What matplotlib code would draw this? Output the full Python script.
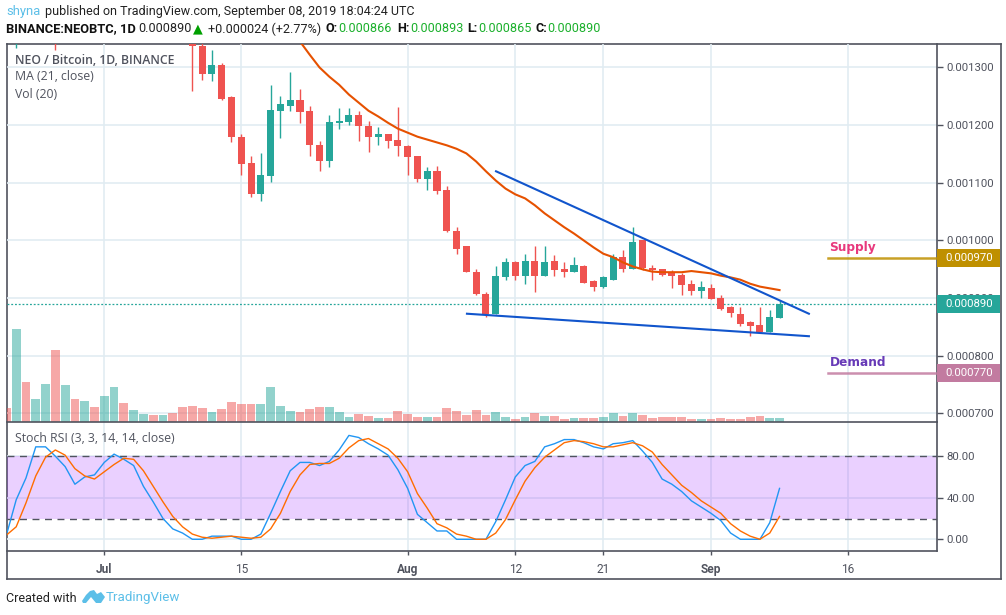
import matplotlib
matplotlib.use('Agg')
import numpy as np
import matplotlib.pyplot as plt
from matplotlib.patches import Polygon, Rectangle
from matplotlib.transforms import blended_transform_factory

# prices in 1e-6 BTC, days counted from Jul 1
candle_days = [-9, -5] + list(range(9, 70))
opens = [1390, 1420, 1350, 1338, 1288, 1305, 1248, 1180, 1135, 1081, 1111, 1225, 1234, 1243, 1224, 1166, 1137, 1204,
         1206, 1218, 1199, 1179, 1185, 1175, 1163, 1146, 1106, 1121, 1087, 1017, 990, 946, 908, 873, 936, 962, 938,
         964, 939, 964, 950, 945, 955, 929, 920, 932, 971, 950, 1000, 953, 950, 945, 941, 924, 912, 917, 901, 884,
         873, 858, 853, 842, 865]
highs = [1470, 1440, 1364, 1354, 1331, 1308, 1251, 1185, 1147, 1151, 1270, 1250, 1293, 1263, 1234, 1173, 1218, 1229,
         1230, 1224, 1208, 1196, 1185, 1232, 1166, 1146, 1128, 1130, 1094, 1024, 991, 951, 910, 955, 969, 964, 977,
         991, 990, 974, 962, 972, 958, 931, 939, 977, 983, 1023, 1000, 957, 951, 948, 943, 931, 929, 925, 905, 886,
         884, 860, 884, 879, 896]
lows = [1333, 1330, 1260, 1279, 1277, 1244, 1170, 1113, 1075, 1068, 1102, 1177, 1225, 1204, 1147, 1120, 1127, 1194,
        1201, 1172, 1154, 1166, 1161, 1146, 1114, 1102, 1088, 1081, 1014, 976, 945, 905, 867, 873, 932, 932, 924,
        910, 938, 939, 936, 945, 927, 912, 917, 932, 945, 950, 948, 932, 938, 917, 905, 906, 901, 899, 879, 867,
        851, 834, 839, 842, 865]
closes = [1450, 1375, 1337, 1288, 1305, 1246, 1180, 1132, 1081, 1114, 1227, 1236, 1243, 1222, 1165, 1137, 1206, 1208,
          1218, 1198, 1179, 1185, 1173, 1163, 1144, 1106, 1121, 1085, 1016, 986, 945, 908, 873, 938, 962, 938, 964,
          939, 962, 948, 945, 957, 927, 920, 936, 971, 950, 998, 953, 948, 941, 939, 922, 912, 919, 899, 882, 875,
          856, 851, 842, 867, 890]

ma_days = list(range(20, 70))
ma_values = [1345, 1322, 1300, 1284, 1270, 1253, 1239, 1225, 1215, 1204, 1194, 1187, 1180, 1175, 1170, 1165, 1159,
             1151, 1137, 1120, 1104, 1090, 1080, 1073, 1061, 1047, 1035, 1023, 1012, 1000, 988, 977, 971, 962, 955,
             950, 946, 945, 945, 945, 947, 945, 943, 939, 936, 932, 925, 920, 917, 914]

# relative volume, vol_down holds the days with a red bar
vol_days = list(range(-10, 70))
volumes = [14, 93, 40, 23, 38, 72, 37, 23, 21, 15, 26, 35, 19, 12, 8, 7, 7, 9, 15, 16, 14, 10, 13, 20, 18, 18, 18, 35,
           16, 11, 10, 13, 15, 15, 10, 5, 8, 6, 4, 4, 11, 8, 5, 5, 5, 14, 11, 7, 12, 7, 10, 5, 3, 5, 9, 6, 6, 3, 4, 4,
           4, 5, 9, 6, 9, 7, 4, 5, 5, 5, 3, 3, 3, 4, 3, 3, 5, 6, 4, 4]
vol_down = [-10, -8, -5, -3, -1, 2, 5, 7, 8, 9, 10, 12, 13, 14, 15, 20, 21, 22, 26, 27, 29, 30, 31, 32, 34, 35, 36, 37,
            38, 39, 42, 44, 46, 47, 49, 50, 53, 55, 56, 57, 58, 59, 60, 62, 63, 64, 65, 66, 67]

stoch_days = list(range(-10, 70))
stoch_k = [4, 38, 59, 89, 89, 80, 70, 53, 60, 62, 74, 82, 77, 71, 51, 36, 20, 10, 6, 0, 0, 3, 3, 3, 0, 0, 5, 25, 46, 66,
           74, 74, 71, 75, 86, 100, 98, 92, 87, 81, 67, 49, 24, 16, 8, 8, 0, 0, 0, 0, 17, 38, 60, 71, 75, 89, 92, 96,
           96, 93, 89, 87, 92, 93, 95, 85, 74, 58, 53, 46, 37, 31, 25, 18, 6, 0, 0, 0, 16, 49]
stoch_d = [4, 12, 35, 61, 79, 86, 81, 68, 61, 58, 65, 72, 78, 77, 66, 51, 36, 22, 12, 5, 2, 1, 2, 3, 2, 1, 2, 10, 25, 46,
           62, 72, 73, 73, 78, 88, 95, 97, 92, 87, 78, 65, 44, 30, 15, 11, 5, 3, 0, 0, 6, 19, 38, 56, 69, 79, 86, 93,
           95, 94, 92, 89, 89, 91, 93, 90, 84, 72, 62, 52, 45, 37, 31, 25, 15, 8, 3, 0, 6, 22]

# trend lines as (day, price) ends
upper_days = [40.03, 72]
upper_prices = [1120, 873]
lower_days = [37.06, 72]
lower_prices = [873, 834]

time_ticks = [0, 14, 31, 42, 51, 62, 76]
time_labels = ['Jul', '15', 'Aug', '12', '21', 'Sep', '16']
bold_labels = ['Jul', 'Aug', 'Sep']
price_ticks = [700, 800, 900, 1000, 1100, 1200, 1300]
stoch_ticks = [0, 40, 80]
last_price = 890
supply_price = 970
demand_price = 770

RED = '#ef5350'
TEAL = '#26a69a'
GREEN = '#1bb02c'
GRID = '#e1ecf2'
DARK = '#50535e'
BLUE = '#5cbfe8'
W, H = 1006, 615


def box(left, top, right, bottom):
    return [left / W, 1 - bottom / H, (right - left) / W, (bottom - top) / H]


def ftext(x, y, s, **kw):
    kw.setdefault('va', 'center')
    kw.setdefault('family', 'Roboto')
    return fig.text(x / W, 1 - y / H, s, **kw)


fig = plt.figure(figsize=(W / 100, H / 100), dpi=100)

# outer frame
frame = fig.add_axes(box(6.5, 43.5, 1000.5, 578.5))
frame.set_xticks([])
frame.set_yticks([])
for s in frame.spines.values():
    s.set_color(DARK)
    s.set_linewidth(1.2)

xlim = (-9.99, 85.09)

# main pane
vol_ax = fig.add_axes(box(6.5, 43.5, 937, 421.5))
vol_ax.set_xlim(*xlim)
vol_ax.set_ylim(0, 378)
vol_ax.axis('off')
ax = fig.add_axes(box(6.5, 43.5, 937, 421.5))
ax.set_zorder(vol_ax.get_zorder() + 1)
ax.patch.set_alpha(0)
ax.set_xlim(*xlim)
ax.set_ylim(686.1, 1341.6)

for t in time_ticks:
    vol_ax.axvline(t, color=GRID, lw=1.2, zorder=0)
for p in price_ticks:
    vol_ax.axhline((p - 686.1) * 378 / (1341.6 - 686.1), color=GRID, lw=1.2, zorder=0)

vol_colors = [RED if d in vol_down else TEAL for d in vol_days]
vol_ax.bar(vol_days, volumes, width=0.9, color=vol_colors, alpha=0.5, linewidth=0, zorder=1)

opens_a, closes_a = np.array(opens), np.array(closes)
colors = [TEAL if c >= o else RED for o, c in zip(opens, closes)]
ax.vlines(candle_days, lows, highs, colors=colors, lw=1.0, zorder=3)
ax.bar(candle_days, np.abs(closes_a - opens_a), bottom=np.minimum(opens_a, closes_a), width=0.72,
       color=colors, linewidth=0, zorder=3)

ax.plot(ma_days, ma_values, color='#e65100', lw=1.5, zorder=4)
ax.plot(upper_days, upper_prices, color='#1155cc', lw=1.5, zorder=5)
ax.plot(lower_days, lower_prices, color='#1155cc', lw=1.5, zorder=5)
ax.axhline(last_price, color=TEAL, lw=0.9, ls=(0, (1.5, 1.5)), zorder=2)

ax.plot([74, xlim[1]], [supply_price, supply_price], color='#bf9000', lw=1.8, zorder=4, alpha=0.85)
ax.plot([74, xlim[1]], [demand_price, demand_price], color='#c27ba0', lw=1.8, zorder=4, alpha=0.85)
ax.text(74.1, 988, 'Supply', color='#e8397d', fontsize=8.7, fontweight='bold', family='DejaVu Sans', va='center')
ax.text(74.1, 788, 'Demand', color='#673ab7', fontsize=8.7, fontweight='bold', family='DejaVu Sans', va='center')

ax.yaxis.tick_right()
ax.set_yticks(price_ticks)
ax.set_yticklabels(['%.6f' % (p * 1e-6) for p in price_ticks], fontsize=8.2, color=DARK, family='Roboto')
ax.tick_params(axis='y', length=4, width=1, color=DARK, pad=3)
ax.set_xticks([])
for name, s in ax.spines.items():
    s.set_visible(name in ('bottom', 'right'))
    s.set_color(DARK)
    s.set_linewidth(1.2)

# price tags on the axis
trans = blended_transform_factory(ax.transAxes, ax.transData)
for price, col in [(supply_price, '#bf9000'), (last_price, TEAL), (demand_price, '#c27ba0')]:
    ax.add_patch(Rectangle((1.0, price - 15.6), 63 / 930.5, 31.2, transform=trans, color=col, clip_on=False,
                           linewidth=0, zorder=6))
    ax.text(1 + 8 / 930.5, price, '%.6f' % (price * 1e-6), transform=trans, color='white', fontsize=8.2,
            family='Roboto', va='center', ha='left', clip_on=False, zorder=7)

ftext(15, 60, 'NEO / Bitcoin, 1D, BINANCE', fontsize=8.8, color=DARK, fontweight='semibold', family='Open Sans')
ftext(15, 77, 'MA (21, close)', fontsize=8.8, color=DARK, family='Open Sans')
ftext(15, 94, 'Vol (20)', fontsize=8.8, color=DARK, family='Open Sans')

# stoch rsi pane
st = fig.add_axes(box(6.5, 421.5, 937, 550.5))
st.set_xlim(*xlim)
st.set_ylim(-10.8, 113.4)
st.patch.set_alpha(0)
for t in time_ticks:
    st.axvline(t, color=GRID, lw=1.2, zorder=0)
for v in stoch_ticks:
    st.axhline(v, color=GRID, lw=1.2, zorder=0)
st.axhspan(20, 80, color='#9915ff', alpha=0.2, linewidth=0, zorder=1)
st.axhline(80, color=DARK, lw=1, ls=(0, (5, 4)), zorder=2)
st.axhline(20, color=DARK, lw=1, ls=(0, (5, 4)), zorder=2)
st.plot(stoch_days, stoch_k, color='#2196f3', lw=1.0, zorder=3)
st.plot(stoch_days, stoch_d, color='#ff6d00', lw=1.0, zorder=3)

st.yaxis.tick_right()
st.set_yticks(stoch_ticks)
st.set_yticklabels(['%.2f' % v for v in stoch_ticks], fontsize=8.2, color=DARK, family='Roboto')
st.tick_params(axis='y', length=4, width=1, color=DARK, pad=3)
st.set_xticks(time_ticks)
st.set_xticklabels(time_labels, fontsize=8.6, color=DARK, family='Roboto')
for lab in st.get_xticklabels():
    if lab.get_text() in bold_labels:
        lab.set_fontweight('bold')
st.tick_params(axis='x', length=3, width=1, color=DARK, pad=6)
for name, s in st.spines.items():
    s.set_visible(name in ('bottom', 'right'))
    s.set_color(DARK)
    s.set_linewidth(1.2)
ftext(15, 438, 'Stoch RSI (3, 3, 14, 14, close)', fontsize=8.8, color=DARK, family='Open Sans')

# header
y1, y2 = 12, 29
ftext(6, y1, 'shyna', fontsize=9.4, color=BLUE)
ftext(45, y1, 'published on TradingView.com, September 08, 2019 18:04:24 UTC', fontsize=9.0, color='#222222')
ftext(6, y2, 'BINANCE:NEOBTC, 1D', fontsize=9.3, color='#111111', fontweight='bold')
ftext(138, y2, '0.000890', fontsize=9.1, color='#222222')
ftext(193, y2, '\u25b2', fontsize=9.2, color='#00a000', family='DejaVu Sans')
ftext(208, y2, '+0.000024 (+2.77%)', fontsize=9.1, color='#222222')
ftext(325, y2, 'O:', fontsize=9.1, color='#111111', fontweight='bold')
ftext(338, y2, '0.000866', fontsize=9.1, color=GREEN)
ftext(397, y2, 'H:', fontsize=9.1, color='#111111', fontweight='bold')
ftext(410, y2, '0.000893', fontsize=9.1, color=GREEN)
ftext(467, y2, 'L:', fontsize=9.1, color='#111111', fontweight='bold')
ftext(478, y2, '0.000865', fontsize=9.1, color=GREEN)
ftext(535, y2, 'C:', fontsize=9.1, color='#111111', fontweight='bold')
ftext(547, y2, '0.000890', fontsize=9.1, color=GREEN)

# footer
ftext(6, 598, 'Created with', fontsize=9.0, color='#222222')
ftext(106, 598, 'TradingView', fontsize=9.6, color=BLUE)
logo = [(82, 601), (86, 595), (90, 591), (94, 590), (97, 594), (101, 592), (105, 597), (101, 603), (96, 603), (91, 597),
        (86, 603), (83, 603)]
fig.add_artist(Polygon([(x / W, 1 - y / H) for x, y in logo], closed=True, color=BLUE, linewidth=0,
                       transform=fig.transFigure))

fig.savefig('out.png', dpi=100)
plt.close()
